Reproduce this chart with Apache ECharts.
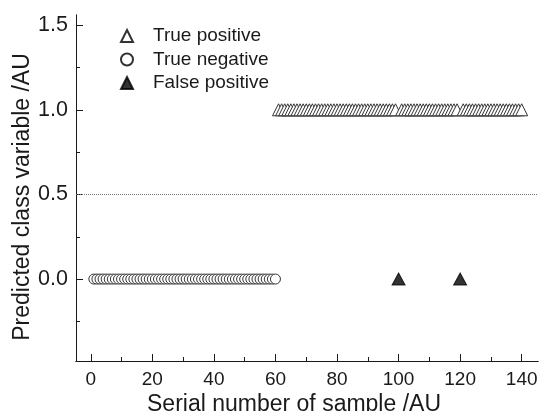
<!DOCTYPE html>
<html style="height: 100%">
<head>
  <meta charset="utf-8">
  <title>Predicted class</title>
</head>
<body style="height: 100%; margin: 0; background: #fff">
<div id="container" style="width: 541px; height: 411px"></div>
<script src="https://cdn.jsdelivr.net/npm/echarts@6/dist/echarts.min.js"></script>
<script>
  // serial numbers of samples per outcome
  const truePositiveX = [61, 62, 63, 64, 65, 66, 67, 68, 69, 70, 71, 72, 73, 74, 75, 76, 77, 78, 79, 80,
    81, 82, 83, 84, 85, 86, 87, 88, 89, 90, 91, 92, 93, 94, 95, 96, 97, 98, 99,
    101, 102, 103, 104, 105, 106, 107, 108, 109, 110, 111, 112, 113, 114, 115, 116, 117, 118, 119,
    121, 122, 123, 124, 125, 126, 127, 128, 129, 130, 131, 132, 133, 134, 135, 136, 137, 138, 139, 140];
  const trueNegativeX = [1, 2, 3, 4, 5, 6, 7, 8, 9, 10, 11, 12, 13, 14, 15, 16, 17, 18, 19, 20,
    21, 22, 23, 24, 25, 26, 27, 28, 29, 30, 31, 32, 33, 34, 35, 36, 37, 38, 39, 40,
    41, 42, 43, 44, 45, 46, 47, 48, 49, 50, 51, 52, 53, 54, 55, 56, 57, 58, 59, 60];
  const falsePositiveX = [100, 120];
  // predicted class variable for each group
  const truePositiveY = 1;
  const trueNegativeY = 0;
  const falsePositiveY = 0;
  const threshold = 0.5;

  const xMajor = [0, 20, 40, 60, 80, 100, 120, 140];
  const xMinor = [10, 30, 50, 70, 90, 110, 130];
  const yMajor = [0, 0.5, 1.0, 1.5];
  const yMinor = [-0.25, 0.25, 0.75, 1.25];

  const xRange = [-4.8, 145.3];
  const yRange = [-0.484, 1.56];

  const font = "'Liberation Sans', Arial, sans-serif";
  const ink = '#1a1a1a';

  var myChart = echarts.init(document.getElementById('container'));

  function xAxisOf(ticks, len, labels) {
    return {
      type: 'value', position: 'bottom', min: xRange[0], max: xRange[1],
      axisLine: { show: true, onZero: false, lineStyle: { color: ink, width: 1 } },
      axisTick: { show: true, inside: true, length: len, customValues: ticks, lineStyle: { color: ink } },
      axisLabel: labels ? { show: true, customValues: ticks, margin: 9, fontSize: 19, fontFamily: font, color: ink } : { show: false },
      splitLine: { show: false }
    };
  }
  function yAxisOf(ticks, len, labels) {
    return {
      type: 'value', position: 'left', min: yRange[0], max: yRange[1],
      axisLine: { show: true, onZero: false, lineStyle: { color: ink, width: 1 } },
      axisTick: { show: true, inside: true, length: len, customValues: ticks, lineStyle: { color: ink } },
      axisLabel: labels ? {
        show: true, customValues: ticks, margin: 8, fontSize: 21.5, fontFamily: font, color: ink,
        formatter: v => v.toFixed(1)
      } : { show: false },
      splitLine: { show: false }
    };
  }

  const xMain = xAxisOf(xMajor, 7, true);
  xMain.name = 'Serial number of sample /AU';
  xMain.nameLocation = 'middle';
  xMain.nameGap = 32;
  xMain.nameMoveOverlap = false;
  xMain.nameTextStyle = { fontSize: 23, fontFamily: font, color: ink, padding: [0, 26, 0, 0] };

  const yMain = yAxisOf(yMajor, 7, true);
  yMain.name = 'Predicted class variable /AU';
  yMain.nameLocation = 'middle';
  yMain.nameGap = 42;
  yMain.nameMoveOverlap = false;
  yMain.nameTextStyle = { fontSize: 23, fontFamily: font, color: ink, padding: [0, 18, 0, 0] };

  const option = {
    backgroundColor: '#fff',
    animation: false,
    grid: { left: 76, right: 3, top: 15, bottom: 50, outerBoundsMode: 'none' },
    legend: {
      orient: 'vertical', left: 115, top: 20,
      itemWidth: 12, itemHeight: 12, itemGap: 1.5,
      textStyle: { fontSize: 19, lineHeight: 19, fontFamily: font, color: ink, padding: [3, 0, 0, 15] },
      data: ['True positive', 'True negative', 'False positive']
    },
    xAxis: [xMain, xAxisOf(xMinor, 4, false)],
    yAxis: [yMain, yAxisOf(yMinor, 4, false)],
    series: [
      {
        name: 'True positive', type: 'scatter', symbol: 'triangle', symbolSize: 12,
        itemStyle: { color: '#fff', borderColor: '#333', borderWidth: 1, opacity: 1 },
        data: truePositiveX.map(x => [x, truePositiveY]),
        markLine: {
          silent: true, symbol: 'none', label: { show: false },
          lineStyle: { type: [1, 1], color: '#777', width: 1 },
          data: [{ yAxis: threshold }]
        }
      },
      {
        name: 'True negative', type: 'scatter', symbol: 'circle', symbolSize: 10,
        itemStyle: { color: '#fff', borderColor: '#333', borderWidth: 1, opacity: 1 },
        data: trueNegativeX.map(x => [x, trueNegativeY])
      },
      {
        name: 'False positive', type: 'scatter', symbol: 'triangle', symbolSize: [13, 12],
        itemStyle: { color: '#000', borderColor: '#000', borderWidth: 1 },
        data: falsePositiveX.map(x => [x, falsePositiveY])
      }
    ]
  };
  myChart.setOption(option);
</script>
</body>
</html>
